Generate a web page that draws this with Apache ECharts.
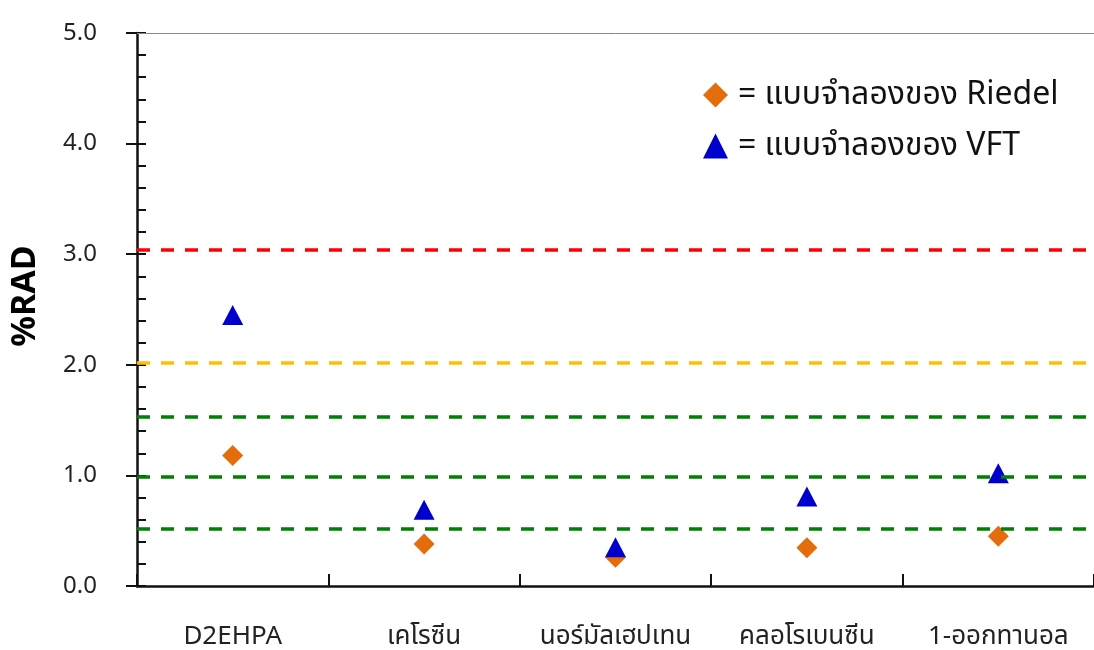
<!DOCTYPE html>
<html>
<head>
<meta charset="utf-8">
<script src="https://cdn.jsdelivr.net/npm/echarts@6/dist/echarts.min.js"></script>
<style>
  html, body { margin: 0; padding: 0; background: #fff; }
  #chart { width: 1094px; height: 650px; }
</style>
</head>
<body>
<div id="chart"></div>
<script>
// Solvents compared
const categories = ['D2EHPA', 'เคโรซีน', 'นอร์มัลเฮปเทน', 'คลอโรเบนซีน', '1-ออกทานอล'];
// %RAD of each viscosity model
const riedel = [1.18, 0.38, 0.26, 0.345, 0.45];
const vft = [2.45, 0.69, 0.35, 0.81, 1.02];
// Reference levels (value, colour)
const refValues = [3.04, 2.015, 1.53, 0.99, 0.515];
const refColors = ['#FF0000', '#FFC000', '#008000', '#008000', '#008000'];
// Y axis ticks
const yTicks = { min: 0, max: 5, major: 1, minor: 0.2 };

const FONT = "'Noto Sans', 'Noto Sans Thai', 'DejaVu Sans', sans-serif";

const chart = echarts.init(document.getElementById('chart'), null, { renderer: 'canvas' });

const refLines = refValues.map((v, i) => ({
  yAxis: v,
  lineStyle: { color: refColors[i], width: 3.5, type: [13, 11] }
}));
refLines.push({ yAxis: yTicks.max, lineStyle: { color: '#888', width: 1, type: 'solid' } });

chart.setOption({
  animation: false,
  backgroundColor: '#fff',
  grid: { left: 137, top: 33, width: 959, bottom: 63, containLabel: false },
  graphic: [
    {
      type: 'text',
      x: 25,
      y: 296,
      rotation: Math.PI / 2,
      style: {
        text: '%RAD',
        fontFamily: FONT,
        fontSize: 34,
        fontWeight: 'bold',
        fill: '#000',
        textAlign: 'center',
        textVerticalAlign: 'middle'
      }
    }
  ],
  legend: {
    orient: 'vertical',
    left: 698,
    top: 74,
    itemWidth: 25,
    itemHeight: 25,
    itemGap: 19,
    selectedMode: false,
    data: [
      { name: 'Riedel', icon: 'diamond' },
      { name: 'VFT', icon: 'triangle' }
    ],
    formatter: name => '= แบบจำลองของ ' + name,
    textStyle: { fontFamily: FONT, fontSize: 32, lineHeight: 25, color: '#111', padding: [0, 0, 0, 5] }
  },
  xAxis: {
    type: 'category',
    data: categories,
    boundaryGap: true,
    axisLine: { lineStyle: { color: '#111', width: 2.5 } },
    axisTick: { show: true, inside: true, interval: 0, length: 12, lineStyle: { color: '#111', width: 2 } },
    axisLabel: { interval: 0, fontFamily: FONT, fontSize: 26, color: '#222', margin: 38 },
    splitLine: { show: false }
  },
  yAxis: [
    {
      type: 'value',
      min: yTicks.min,
      max: yTicks.max,
      interval: yTicks.major,
      axisLine: { show: true, lineStyle: { color: '#111', width: 2.5 } },
      axisTick: { show: true, inside: false, length: 11, lineStyle: { color: '#111', width: 2 } },
      axisLabel: {
        fontFamily: FONT, fontSize: 24, color: '#222', margin: 40,
        formatter: v => v.toFixed(1)
      },
      splitLine: { show: false }
    },
    {
      type: 'value',
      position: 'left',
      min: yTicks.min,
      max: yTicks.max,
      interval: yTicks.minor,
      axisLine: { show: false },
      axisTick: { show: true, inside: true, length: 9, lineStyle: { color: '#111', width: 2 } },
      axisLabel: { show: false },
      splitLine: { show: false }
    }
  ],
  series: [
    {
      name: 'Reference',
      type: 'line',
      data: [],
      silent: true,
      markLine: {
        silent: true,
        symbol: 'none',
        label: { show: false },
        data: refLines
      }
    },
    {
      name: 'Riedel',
      type: 'scatter',
      symbol: 'diamond',
      symbolSize: 21,
      itemStyle: { color: '#E46C0A', opacity: 1 },
      data: riedel,
      z: 3
    },
    {
      name: 'VFT',
      type: 'scatter',
      symbol: 'triangle',
      symbolSize: [21, 20],
      itemStyle: { color: '#0000CC', opacity: 1 },
      data: vft,
      z: 4
    }
  ]
});
</script>
</body>
</html>
